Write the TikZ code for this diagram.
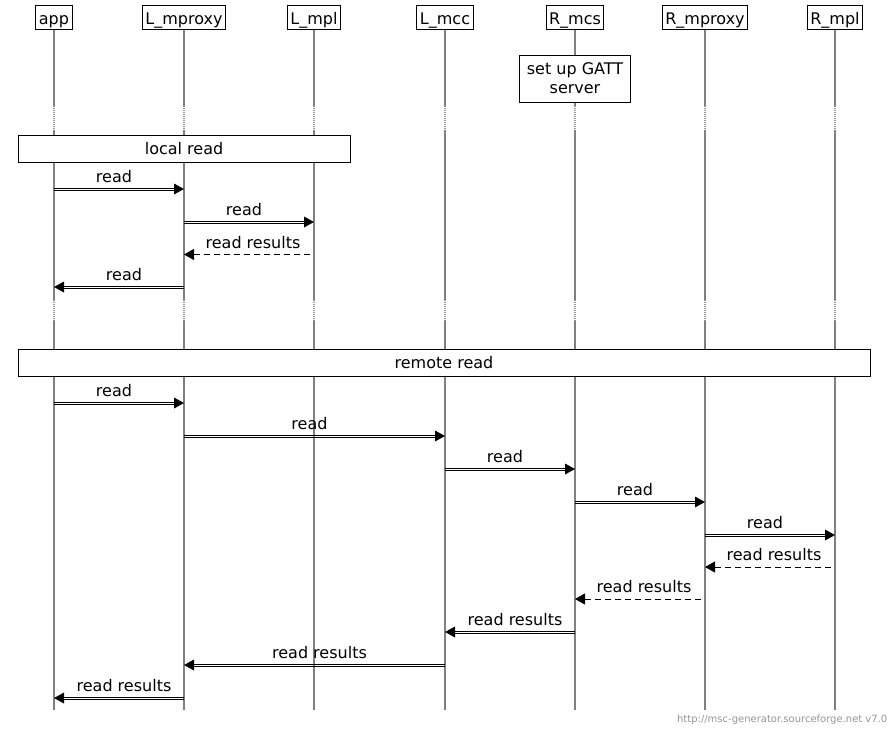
\documentclass[tikz,border=0pt]{standalone}
\usepackage{fontspec}
\setmainfont{DejaVu Sans}
\usetikzlibrary{arrows.meta,calc}
\definecolor{lifegray}{RGB}{128,128,128}
\definecolor{dotgray}{RGB}{150,150,150}
\definecolor{footgray}{RGB}{150,150,150}
\tikzset{
  hdr/.style={draw=black, line width=1pt, fill=white, inner xsep=3pt, inner ysep=0pt, minimum height=24pt, text height=15pt, text depth=1pt},
  life/.style={draw=lifegray, line width=2pt},
  lifedot/.style={draw=dotgray, line width=2pt, dash pattern=on 1pt off 1pt},
  bar/.style={draw=black, line width=1pt, fill=white, inner sep=0pt, minimum height=27pt},
  dline/.style={draw=black, line width=1pt, shorten >=9pt},
  tiphead/.style={fill=black, draw=none},
  rline/.style={draw=black, line width=1pt, dash pattern=on 6pt off 4pt, shorten <=4pt, -{Triangle[length=10pt,width=11pt]}},
  lbl/.style={anchor=base, inner sep=0pt}
}
\newcommand\mscmsg[5]{% name, from, to, y, label
  \draw[dline] ($(#2 |- 0,#4)+(0,-1)$) -- ($(#3 |- 0,#4)+(0,-1)$);
  \draw[dline] ($(#2 |- 0,#4)+(0,1)$) -- ($(#3 |- 0,#4)+(0,1)$);
  \fill[tiphead] (#3 |- 0,#4) -- ($(#3 |- 0,#4)!10pt!(#2 |- 0,#4) + (0,5.5)$) -- ($(#3 |- 0,#4)!10pt!(#2 |- 0,#4) + (0,-5.5)$) -- cycle;
  \node[lbl, yshift=6.5pt] (#1) at ($(#2 |- 0,#4)!0.5!(#3 |- 0,#4)!5pt!(#2 |- 0,#4)$) {#5};
}
\newcommand\mscret[5]{% name, from, to, y, label
  \draw[rline] (#2 |- 0,#4) -- (#3 |- 0,#4);
  \node[lbl, yshift=6.5pt] (#1) at ($(#2 |- 0,#4)!0.5!(#3 |- 0,#4)!4pt!(#2 |- 0,#4)$) {#5};
}
\begin{document}
\begin{tikzpicture}[x=1pt, y=-1pt, font=\fontsize{16}{19}\selectfont]
\useasboundingbox (0,0) rectangle (890,729);
% headers
\node[hdr] (app) at (54,17) {app};
\node[hdr] (Lmproxy) at (184,17) {L\_mproxy};
\node[hdr] (Lmpl) at (314,17) {L\_mpl};
\node[hdr] (Lmcc) at (445,17) {L\_mcc};
\node[hdr] (Rmcs) at (575,17) {R\_mcs};
\node[hdr] (Rmproxy) at (705,17) {R\_mproxy};
\node[hdr] (Rmpl) at (835,17) {R\_mpl};
% lifelines
\foreach \n in {app,Lmproxy,Lmpl,Lmcc,Rmcs,Rmproxy,Rmpl} {
  \draw[life] (\n.south) -- (\n |- 0,106);
  \draw[lifedot] (\n |- 0,106) -- (\n |- 0,130);
  \draw[life] (\n |- 0,130) -- (\n |- 0,300);
  \draw[lifedot] (\n |- 0,300) -- (\n |- 0,321);
  \draw[life] (\n |- 0,321) -- (\n |- 0,710);
}
% boxes
\node[bar, minimum width=111pt, minimum height=47pt, align=center] (gatt) at (Rmcs |- 0,78.5) {set up GATT\\server};
\node[bar, minimum width=332pt] (local) at (184,148.5) {local read};
\node[bar, minimum width=852pt] (remote) at (444,362.5) {remote read};
% local read
\mscmsg{m1}{app}{Lmproxy}{189}{read}
\mscmsg{m2}{Lmproxy}{Lmpl}{222}{read}
\mscret{m3}{Lmpl}{Lmproxy}{254.5}{read results}
\mscmsg{m4}{Lmproxy}{app}{287}{read}
% remote read
\mscmsg{m5}{app}{Lmproxy}{403}{read}
\mscmsg{m6}{Lmproxy}{Lmcc}{436}{read}
\mscmsg{m7}{Lmcc}{Rmcs}{469}{read}
\mscmsg{m8}{Rmcs}{Rmproxy}{502}{read}
\mscmsg{m9}{Rmproxy}{Rmpl}{535}{read}
\mscret{m10}{Rmpl}{Rmproxy}{567}{read results}
\mscret{m11}{Rmproxy}{Rmcs}{599}{read results}
\mscmsg{m12}{Rmcs}{Lmcc}{632}{read results}
\mscmsg{m13}{Lmcc}{Lmproxy}{665}{read results}
\mscmsg{m14}{Lmproxy}{app}{698}{read results}
% footer
\node[anchor=base east, inner sep=0pt, text=footgray, font=\fontsize{10}{12}\selectfont] (foot) at (887.5,722.5) {http://msc-generator.sourceforge.net v7.0};
\end{tikzpicture}
\end{document}
